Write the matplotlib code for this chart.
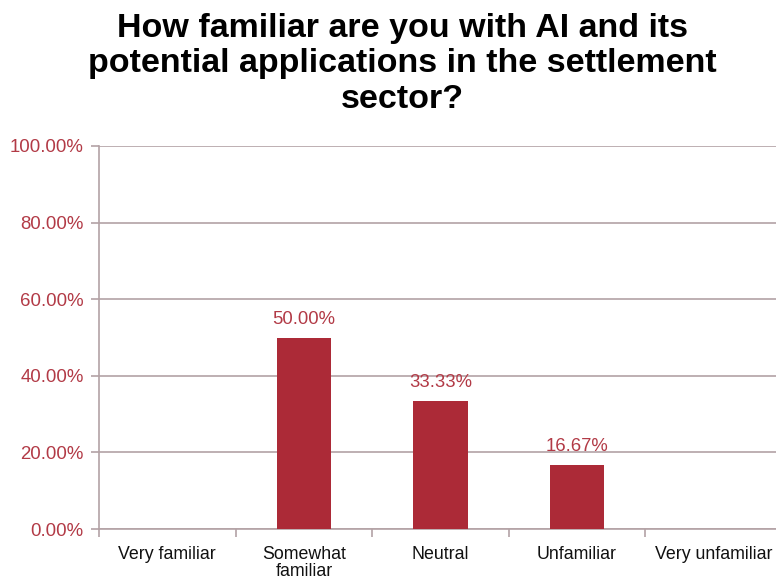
import numpy as np
import matplotlib.pyplot as plt
from matplotlib.ticker import PercentFormatter

plt.rcParams['font.family'] = ['Liberation Sans', 'DejaVu Sans']

categories = ['Very familiar', 'Somewhat\nfamiliar', 'Neutral', 'Unfamiliar', 'Very unfamiliar']
shares = [0.0, 50.00, 33.33, 16.67, 0.0]
yticks = [0, 20, 40, 60, 80, 100]

bar_color = '#AC2A37'
label_color = '#B23A46'
grid_color = '#B3A2A5'

fig = plt.figure(figsize=(7.76, 5.8), dpi=100)
ax = fig.add_axes([0.1276, 0.0879, 0.88, 0.6604])

x = np.arange(len(categories))
bars = ax.bar(x, shares, width=0.4, color=bar_color, zorder=3)

# value labels only where there is a bar
for rect, v in zip(bars, shares):
    if v > 0:
        ax.text(rect.get_x() + rect.get_width() / 2, v + 2.6, f'{v:.2f}%',
                ha='center', va='bottom', color=label_color, fontsize=13.3)

ax.set_xlim(-0.5, len(categories) - 0.5)
ax.set_ylim(0, 100)
ax.set_yticks(yticks)
ax.yaxis.set_major_formatter(PercentFormatter(decimals=2))
ax.yaxis.grid(True, color=grid_color, linewidth=1.2, zorder=0)

ax.set_xticks(x)
ax.set_xticklabels(categories, fontsize=12.8, color='#111111', linespacing=1.05)
ax.set_xticks(np.arange(len(categories) + 1) - 0.5, minor=True)
ax.tick_params(axis='x', which='major', length=0, pad=12)
ax.tick_params(axis='x', which='minor', length=6, color=grid_color, width=1.2)
ax.tick_params(axis='y', length=6, color=grid_color, width=1.2, labelsize=13.4,
               labelcolor=label_color, pad=5)

for side in ['top', 'right']:
    ax.spines[side].set_visible(False)
for side in ['left', 'bottom']:
    ax.spines[side].set_color(grid_color)
    ax.spines[side].set_linewidth(1.2)

fig.text(0.519, 0.978,
         'How familiar are you with AI and its\npotential applications in the settlement\nsector?',
         ha='center', va='top', fontsize=24.5, fontweight='bold', linespacing=1.19)

fig.savefig('out.png', dpi=100)
